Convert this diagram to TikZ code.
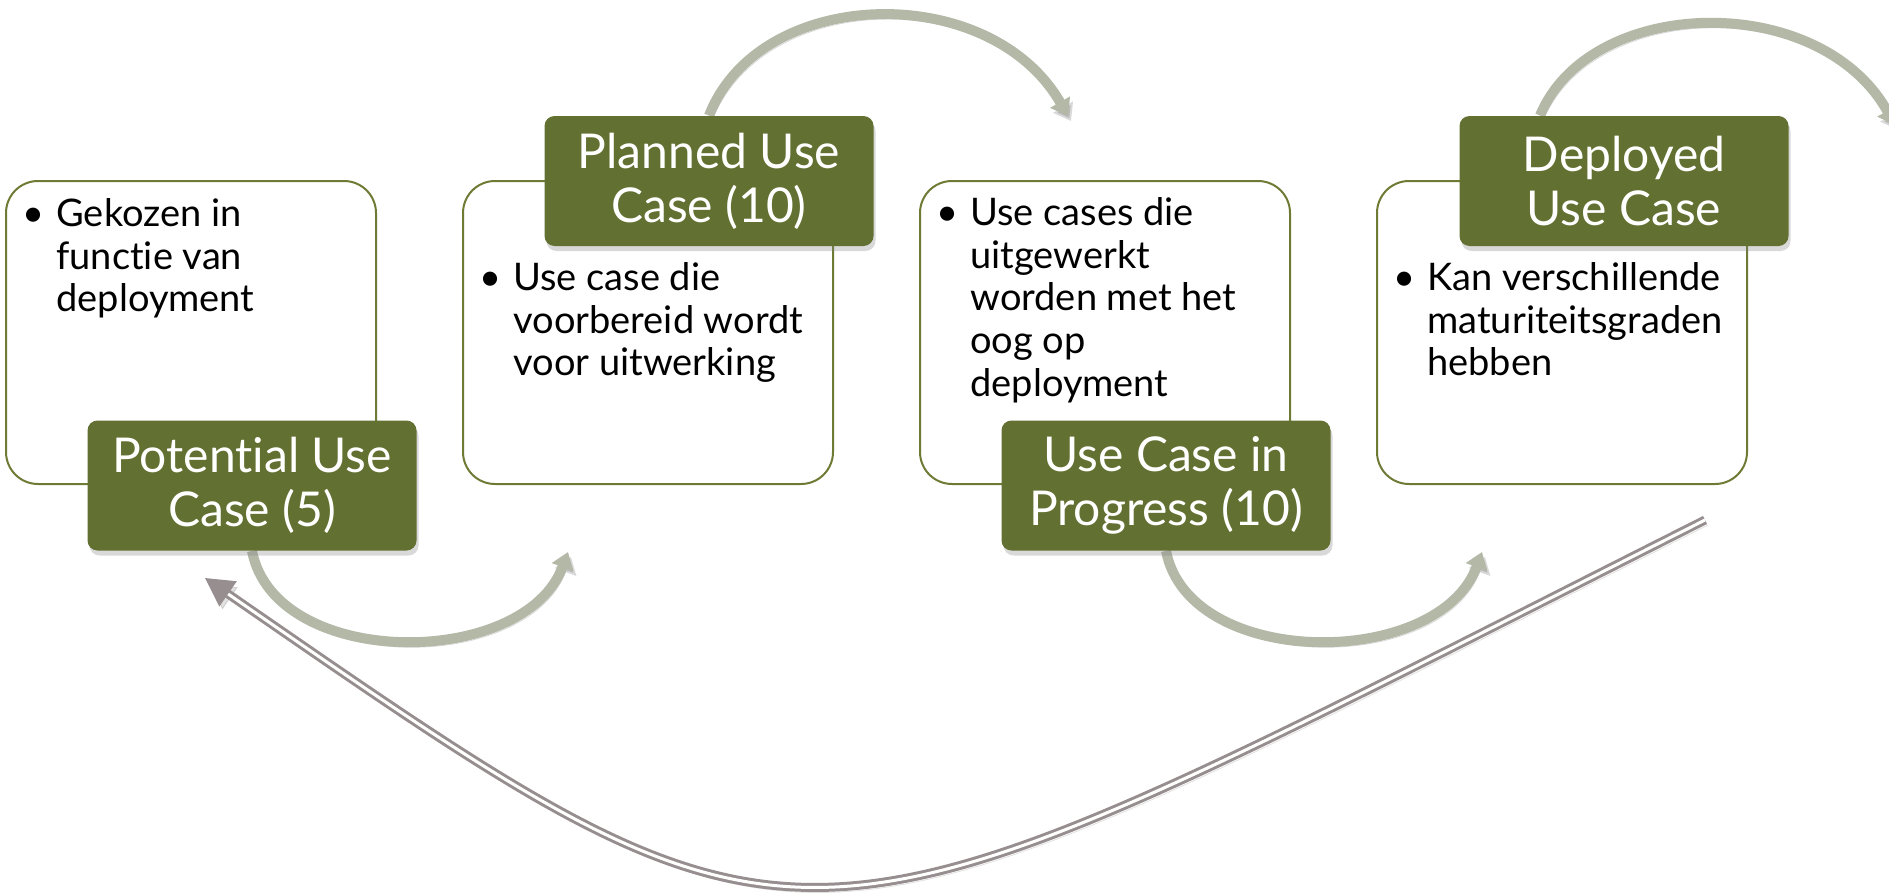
\documentclass[tikz,border=0pt]{standalone}
\usepackage{fontspec}
\setmainfont{Lato}[Ligatures={NoCommon,NoRare,NoDiscretionary}]
\usetikzlibrary{arrows.meta,calc,shadows,backgrounds}
\definecolor{olive}{HTML}{627031}
\definecolor{oliveline}{HTML}{6E7B35}
\definecolor{arrowgray}{HTML}{B3B8A7}
\definecolor{retgray}{HTML}{978E90}
\newcommand\bulmark{\makebox[17pt][l]{\textbullet}}
\newcommand\bulind{\hspace*{17pt}}
\begin{document}
\begin{tikzpicture}[x=0.5pt,y=-0.5pt,
  card/.style={draw=oliveline, line width=1pt, fill=white, rounded corners=16pt,
    minimum width=185pt, minimum height=151.5pt, inner sep=0},
  greenbox/.style={fill=olive, rounded corners=5pt, minimum width=164.5pt,
    minimum height=65pt, inner sep=0, text=white, align=center,
    font=\fontsize{24pt}{27pt}\selectfont,
    drop shadow={shadow xshift=1pt, shadow yshift=-2.5pt, opacity=0.3}},
  bodytext/.style={anchor=north west, inner sep=0, align=left,
    font=\fontsize{19pt}{21.4pt}\selectfont},
  flow/.style={draw=arrowgray, line width=5pt, -{Triangle[width=11pt,length=8pt]},
    preaction={draw=black, opacity=0.15, transform canvas={shift={(1.5pt,-2.5pt)}}}},
  back/.style={draw=retgray, double=white, double distance=1.5pt, line width=1.5pt,
    -{Triangle[width=15pt,length=14pt]},
    preaction={draw=black, opacity=0.12, transform canvas={shift={(1.5pt,-2.5pt)}}}}
]
\useasboundingbox (0,0) rectangle (1889,894);

% cards
\node[card] (b1) at (191,332.5) {};
\node[card] (b2) at (648,332.5) {};
\node[card] (b3) at (1105,332.5) {};
\node[card] (b4) at (1562,332.5) {};

% card texts
\node[bodytext] (t1) at ($(b1.north west)+(17,18)$)
  {\bulmark Gekozen in\\\bulind functie van\\\bulind deployment};
\node[bodytext] (t2) at ($(b2.north west)+(17,82)$)
  {\bulmark Use case die\\\bulind voorbereid wordt\\\bulind voor uitwerking};
\node[bodytext] (t3) at ($(b3.north west)+(17,17)$)
  {\bulmark Use cases die\\\bulind uitgewerkt\\\bulind worden met het\\\bulind oog op\\\bulind deployment};
\node[bodytext] (t4) at ($(b4.north west)+(17,82)$)
  {\bulmark Kan verschillende\\\bulind maturiteitsgraden\\\bulind hebben};

% green labels
\node[greenbox] (g1) at (252,485.5) {Potential Use\\Case (5)};
\node[greenbox] (g2) at (709,181) {Planned Use\\Case (10)};
\node[greenbox] (g3) at (1166,485.5) {Use Case in\\Progress (10)};
\node[greenbox] (g4) at (1624,181) {Deployed\\Use Case};

% free ends
\coordinate (e1) at (568,552);
\coordinate (e2) at (1068,116);
\coordinate (e3) at (1482,552);
\coordinate (e4) at (1895,125);
\coordinate (rs) at (1705,520);
\coordinate (re) at (205,578);

\begin{scope}[on background layer]
\draw[flow] (g1.south) .. controls (275,670) and (525,670) .. (e1);
\draw[flow] (g2.north) .. controls (760,-15) and (990,-20) .. (e2);
\draw[flow] (g3.south) .. controls (1189,670) and (1439,670) .. (e3);
\draw[flow] ($(g4.north)+(-84,0)$) .. controls (1590,-5) and (1820,-10) .. (e4);
\draw[back] (rs) .. controls (778,987) and (825,1006) .. (re);
\end{scope}
\end{tikzpicture}
\end{document}
